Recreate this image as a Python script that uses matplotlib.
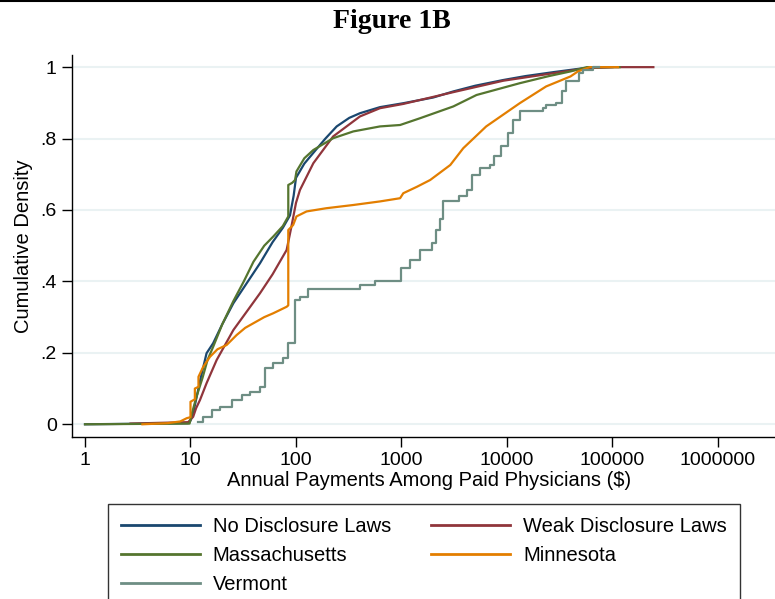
import matplotlib
matplotlib.use('Agg')
import matplotlib.pyplot as plt
from matplotlib.lines import Line2D

plt.rcParams['font.family'] = ['Liberation Sans', 'DejaVu Sans']

# (payment in $, cumulative share)
no_disc_x = [1, 9.5, 10, 10.6, 11.5, 12.5, 14.2, 16.4, 20, 25.5, 35, 45.6, 60, 75, 87.7, 95, 100,
             120, 146, 190, 243, 320, 404, 625, 1040, 2000, 3100, 5000, 9230, 15000, 27500, 52900, 100000]
no_disc_y = [0, 0.003, 0.01, 0.031, 0.08, 0.13, 0.199, 0.227, 0.28, 0.339, 0.40, 0.451, 0.51, 0.55, 0.585, 0.64, 0.69,
             0.73, 0.76, 0.80, 0.834, 0.858, 0.871, 0.888, 0.899, 0.915, 0.932, 0.948, 0.964, 0.975, 0.986, 0.997, 1.0]

weak_x = [2.7, 5, 9.5, 10.6, 11.3, 12.3, 14.2, 17.7, 25.5, 35, 45.6, 60, 81.5, 90, 100, 109, 146, 225,
          404, 625, 1040, 3100, 9230, 27500, 60000, 100000, 244000]
weak_y = [0.002, 0.004, 0.006, 0.021, 0.045, 0.068, 0.115, 0.18, 0.264, 0.32, 0.367, 0.42, 0.488, 0.55, 0.62, 0.656, 0.731, 0.806,
          0.862, 0.885, 0.897, 0.93, 0.962, 0.983, 0.998, 1.0, 1.0]

mass_x = [1, 9.8, 10.3, 11.4, 13, 14.5, 16.4, 20, 25.5, 32, 39.5, 50, 61, 75, 84.5, 84.5, 92, 98, 101, 120,
          146, 225, 349, 625, 970, 1500, 3100, 5140, 13200, 25000, 40000, 57000, 117000]
mass_y = [0, 0.002, 0.03, 0.077, 0.13, 0.18, 0.217, 0.28, 0.345, 0.40, 0.455, 0.50, 0.526, 0.555, 0.582, 0.670, 0.676, 0.684, 0.708, 0.745,
          0.768, 0.801, 0.82, 0.834, 0.838, 0.857, 0.89, 0.922, 0.955, 0.975, 0.988, 1.0, 1.0]

minn_x = [3.5, 6, 8, 9.2, 10, 10, 11, 11, 11.9, 11.9, 13.2, 15.3, 18, 22, 27.4, 33, 39.5, 50, 61, 81.5, 84.5, 84.5,
          94, 101, 126, 194, 349, 625, 970, 1040, 1400, 1870, 2900, 3850, 6350, 13200, 23500, 40000, 47000, 61000, 113000]
minn_y = [0, 0.003, 0.008, 0.017, 0.02, 0.063, 0.07, 0.10, 0.105, 0.133, 0.161, 0.189, 0.21, 0.222, 0.25, 0.27, 0.283, 0.30, 0.311, 0.329, 0.333, 0.544,
          0.558, 0.582, 0.596, 0.605, 0.614, 0.624, 0.633, 0.647, 0.665, 0.684, 0.726, 0.773, 0.834, 0.899, 0.946, 0.974, 0.988, 1.0, 1.0]

verm_x = [11.9, 13.2, 15.9, 19.0, 24.6, 30.6, 36.6, 45.6, 50.9, 61, 75.8, 84.5, 98, 109, 131, 404, 560, 1000, 1200,
          1500, 1940, 2140, 2300, 2450, 2500, 3470, 4170, 4660, 5500, 6900, 7500, 8700, 10300, 11500, 13200, 21900,
          23500, 29000, 33000, 36600, 48500, 52000, 65000, 75000]
verm_y = [0.007, 0.021, 0.04, 0.049, 0.068, 0.082, 0.091, 0.105, 0.157, 0.171, 0.185, 0.227, 0.348, 0.357, 0.378, 0.39, 0.40, 0.437, 0.46,
          0.488, 0.507, 0.544, 0.575, 0.60, 0.624, 0.64, 0.656, 0.698, 0.717, 0.726, 0.75, 0.778, 0.815, 0.852, 0.876, 0.885,
          0.894, 0.899, 0.932, 0.96, 0.985, 0.992, 1.0, 1.0]

labels = ["No Disclosure Laws", "Weak Disclosure Laws", "Massachusetts", "Minnesota", "Vermont"]
colors = ['#1a476f', '#90353b', '#55752f', '#e37e00', '#6e8e84']
x_ticks = [1, 10, 100, 1000, 10000, 100000, 1000000]
y_ticks = [0, 0.2, 0.4, 0.6, 0.8, 1.0]
y_ticklabels = ['0', '.2', '.4', '.6', '.8', '1']

fig = plt.figure(figsize=(7.75, 5.99), dpi=100)
ax = fig.add_axes([72 / 775, 1 - 437 / 599, 1 - 72 / 775, 382 / 599])

ax.plot(no_disc_x, no_disc_y, color=colors[0], lw=1.6)
ax.plot(weak_x, weak_y, color=colors[1], lw=1.6)
ax.plot(mass_x, mass_y, color=colors[2], lw=1.6)
ax.plot(minn_x, minn_y, color=colors[3], lw=1.6)
ax.step(verm_x, verm_y, where='post', color=colors[4], lw=1.6)

ax.set_xscale('log')
ax.set_xlim(0.753, 3.47e6)
ax.set_ylim(-0.0356, 1.034)
ax.set_xticks(x_ticks)
ax.set_xticklabels([str(t) for t in x_ticks])
ax.minorticks_off()
ax.set_yticks(y_ticks)
ax.set_yticklabels(y_ticklabels)
ax.tick_params(axis='both', labelsize=14, length=7, width=1, color='black', direction='out')
ax.tick_params(axis='y', pad=4)

ax.grid(axis='y', color='#eaf2f3', lw=1.5)
ax.set_axisbelow(True)
for side in ['top', 'right']:
    ax.spines[side].set_visible(False)
for side in ['left', 'bottom']:
    ax.spines[side].set_linewidth(1)

ax.set_xlabel("Annual Payments Among Paid Physicians ($)", fontsize=14.5)
ax.xaxis.set_label_coords(0.508, -0.088)
ax.set_ylabel("Cumulative Density", fontsize=14.5)
ax.yaxis.set_label_coords(-0.056, 0.5)

fig.text(392 / 775, 1 - 28.5 / 599, "Figure 1B", fontsize=20, fontweight='bold',
         family='Liberation Serif', ha='center', va='baseline')
fig.add_artist(Line2D([0, 1], [0.999, 0.999], color='black', lw=1.5, transform=fig.transFigure))

# legend is filled column by column, so reorder to read row by row
order = [0, 2, 4, 1, 3]
handles = [Line2D([], [], color=colors[i], lw=2) for i in order]
leg = fig.legend(handles, [labels[i] for i in order], loc='upper left',
                 bbox_to_anchor=(108 / 775, 1 - 504 / 599),
                 ncol=2, fontsize=14.5, frameon=True, fancybox=False, edgecolor='black',
                 handlelength=3.9, handletextpad=0.65, columnspacing=2.0, labelspacing=0.5,
                 borderpad=0.65, borderaxespad=0)
leg.get_frame().set_linewidth(1)

plt.savefig('out.png', dpi=100)
plt.close()
